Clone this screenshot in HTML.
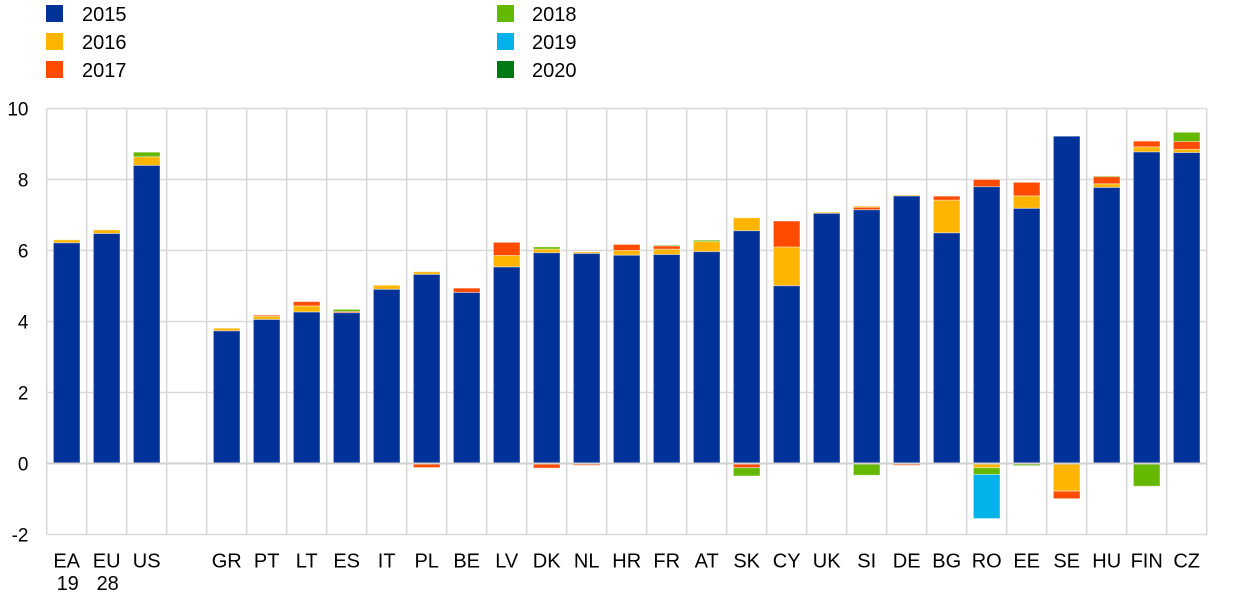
<!DOCTYPE html>
<html>
<head>
<meta charset="utf-8">
<style>
  html, body { margin:0; padding:0; background:#fff; }
  svg { display:block; font-family:"Liberation Sans", Arial, sans-serif; }
</style>
</head>
<body>
<svg width="1240" height="603" viewBox="0 0 1240 603" xmlns="http://www.w3.org/2000/svg">
  <!-- Legend -->
  <rect x="46" y="5" width="17" height="17" fill="#003299"/>
  <rect x="46" y="33" width="17" height="17" fill="#ffb400"/>
  <rect x="46" y="61" width="17" height="17" fill="#ff4b00"/>
  <rect x="497" y="5" width="17" height="17" fill="#65b800"/>
  <rect x="497" y="33" width="17" height="17" fill="#00b1ea"/>
  <rect x="497" y="61" width="17" height="17" fill="#007816"/>
  <g font-size="20" fill="#000">
    <text x="82" y="21">2015</text>
    <text x="82" y="49">2016</text>
    <text x="82" y="77">2017</text>
    <text x="532" y="21">2018</text>
    <text x="532" y="49">2019</text>
    <text x="532" y="77">2020</text>
  </g>

  <!-- Grid -->
  <g stroke="#d9d9d9" stroke-width="1.6" fill="none">
    <line x1="46.7" y1="108.5" x2="1206.7" y2="108.5"/>
    <line x1="46.7" y1="179.5" x2="1206.7" y2="179.5"/>
    <line x1="46.7" y1="250.5" x2="1206.7" y2="250.5"/>
    <line x1="46.7" y1="321.5" x2="1206.7" y2="321.5"/>
    <line x1="46.7" y1="392.5" x2="1206.7" y2="392.5"/>
    <line x1="46.7" y1="534.5" x2="1206.7" y2="534.5"/>
    <line x1="46.7" y1="108.5" x2="46.7" y2="534.5"/>
    <line x1="86.7" y1="108.5" x2="86.7" y2="534.5"/>
    <line x1="126.7" y1="108.5" x2="126.7" y2="534.5"/>
    <line x1="166.7" y1="108.5" x2="166.7" y2="534.5"/>
    <line x1="206.7" y1="108.5" x2="206.7" y2="534.5"/>
    <line x1="246.7" y1="108.5" x2="246.7" y2="534.5"/>
    <line x1="286.7" y1="108.5" x2="286.7" y2="534.5"/>
    <line x1="326.7" y1="108.5" x2="326.7" y2="534.5"/>
    <line x1="366.7" y1="108.5" x2="366.7" y2="534.5"/>
    <line x1="406.7" y1="108.5" x2="406.7" y2="534.5"/>
    <line x1="446.7" y1="108.5" x2="446.7" y2="534.5"/>
    <line x1="486.7" y1="108.5" x2="486.7" y2="534.5"/>
    <line x1="526.7" y1="108.5" x2="526.7" y2="534.5"/>
    <line x1="566.7" y1="108.5" x2="566.7" y2="534.5"/>
    <line x1="606.7" y1="108.5" x2="606.7" y2="534.5"/>
    <line x1="646.7" y1="108.5" x2="646.7" y2="534.5"/>
    <line x1="686.7" y1="108.5" x2="686.7" y2="534.5"/>
    <line x1="726.7" y1="108.5" x2="726.7" y2="534.5"/>
    <line x1="766.7" y1="108.5" x2="766.7" y2="534.5"/>
    <line x1="806.7" y1="108.5" x2="806.7" y2="534.5"/>
    <line x1="846.7" y1="108.5" x2="846.7" y2="534.5"/>
    <line x1="886.7" y1="108.5" x2="886.7" y2="534.5"/>
    <line x1="926.7" y1="108.5" x2="926.7" y2="534.5"/>
    <line x1="966.7" y1="108.5" x2="966.7" y2="534.5"/>
    <line x1="1006.7" y1="108.5" x2="1006.7" y2="534.5"/>
    <line x1="1046.7" y1="108.5" x2="1046.7" y2="534.5"/>
    <line x1="1086.7" y1="108.5" x2="1086.7" y2="534.5"/>
    <line x1="1126.7" y1="108.5" x2="1126.7" y2="534.5"/>
    <line x1="1166.7" y1="108.5" x2="1166.7" y2="534.5"/>
    <line x1="1206.7" y1="108.5" x2="1206.7" y2="534.5"/>
  </g>

  <!-- Bars -->
  <g stroke="rgba(255,255,255,0.4)" stroke-width="1">
    <!-- EA -->
    <rect x="53.4" y="242.69" width="26.6" height="220.81" fill="#003299"/>
    <rect x="53.4" y="239.85" width="26.6" height="2.84" fill="#ffb400"/>
    <!-- EU -->
    <rect x="93.4" y="233.46" width="26.6" height="230.04" fill="#003299"/>
    <rect x="93.4" y="229.91" width="26.6" height="3.55" fill="#ffb400"/>
    <!-- US -->
    <rect x="133.4" y="165.3" width="26.6" height="298.2" fill="#003299"/>
    <rect x="133.4" y="156.78" width="26.6" height="8.52" fill="#ffb400"/>
    <rect x="133.4" y="152.16" width="26.6" height="4.62" fill="#65b800"/>
    <!-- GR -->
    <rect x="213.4" y="330.73" width="26.6" height="132.77" fill="#003299"/>
    <rect x="213.4" y="328.24" width="26.6" height="2.49" fill="#ffb400"/>
    <!-- PT -->
    <rect x="253.4" y="319.37" width="26.6" height="144.13" fill="#003299"/>
    <rect x="253.4" y="316.17" width="26.6" height="3.2" fill="#ffb400"/>
    <rect x="253.4" y="315.11" width="26.6" height="1.06" fill="#ff4b00"/>
    <!-- LT -->
    <rect x="293.4" y="311.91" width="26.6" height="151.59" fill="#003299"/>
    <rect x="293.4" y="305.88" width="26.6" height="6.03" fill="#ffb400"/>
    <rect x="293.4" y="301.62" width="26.6" height="4.26" fill="#ff4b00"/>
    <!-- ES -->
    <rect x="333.4" y="312.62" width="26.6" height="150.88" fill="#003299"/>
    <rect x="333.4" y="311.56" width="26.6" height="1.06" fill="#ff4b00"/>
    <rect x="333.4" y="309.43" width="26.6" height="2.13" fill="#65b800"/>
    <!-- IT -->
    <rect x="373.4" y="289.19" width="26.6" height="174.31" fill="#003299"/>
    <rect x="373.4" y="285.29" width="26.6" height="3.9" fill="#ffb400"/>
    <!-- PL -->
    <rect x="413.4" y="274.28" width="26.6" height="189.22" fill="#003299"/>
    <rect x="413.4" y="271.8" width="26.6" height="2.48" fill="#ffb400"/>
    <rect x="413.4" y="463.5" width="26.6" height="4" fill="#ff4b00"/>
    <!-- BE -->
    <rect x="453.4" y="292.39" width="26.6" height="171.11" fill="#003299"/>
    <rect x="453.4" y="288.13" width="26.6" height="4.26" fill="#ff4b00"/>
    <!-- LV -->
    <rect x="493.4" y="266.83" width="26.6" height="196.67" fill="#003299"/>
    <rect x="493.4" y="255.47" width="26.6" height="11.36" fill="#ffb400"/>
    <rect x="493.4" y="242.33" width="26.6" height="13.14" fill="#ff4b00"/>
    <!-- DK -->
    <rect x="533.4" y="252.63" width="26.6" height="210.87" fill="#003299"/>
    <rect x="533.4" y="249.08" width="26.6" height="3.55" fill="#ffb400"/>
    <rect x="533.4" y="246.95" width="26.6" height="2.13" fill="#65b800"/>
    <rect x="533.4" y="463.5" width="26.6" height="4.6" fill="#ff4b00"/>
    <!-- NL -->
    <rect x="573.4" y="253.34" width="26.6" height="210.16" fill="#003299"/>
    <rect x="573.4" y="251.92" width="26.6" height="1.42" fill="#ffb400"/>
    <rect x="573.4" y="463.5" width="26.6" height="1.8" fill="#ff4b00"/>
    <!-- HR -->
    <rect x="613.4" y="255.11" width="26.6" height="208.39" fill="#003299"/>
    <rect x="613.4" y="250.5" width="26.6" height="4.61" fill="#ffb400"/>
    <rect x="613.4" y="244.46" width="26.6" height="6.04" fill="#ff4b00"/>
    <!-- FR -->
    <rect x="653.4" y="254.4" width="26.6" height="209.1" fill="#003299"/>
    <rect x="653.4" y="249.08" width="26.6" height="5.32" fill="#ffb400"/>
    <rect x="653.4" y="245.88" width="26.6" height="3.2" fill="#ff4b00"/>
    <rect x="653.4" y="245.17" width="26.6" height="0.71" fill="#65b800"/>
    <!-- AT -->
    <rect x="693.4" y="251.56" width="26.6" height="211.94" fill="#003299"/>
    <rect x="693.4" y="241.62" width="26.6" height="9.94" fill="#ffb400"/>
    <rect x="693.4" y="240.2" width="26.6" height="1.42" fill="#65b800"/>
    <!-- SK -->
    <rect x="733.4" y="230.62" width="26.6" height="232.88" fill="#003299"/>
    <rect x="733.4" y="217.84" width="26.6" height="12.78" fill="#ffb400"/>
    <rect x="733.4" y="463.5" width="26.6" height="4.26" fill="#ff4b00"/>
    <rect x="733.4" y="467.76" width="26.6" height="8.17" fill="#65b800"/>
    <!-- CY -->
    <rect x="773.4" y="285.64" width="26.6" height="177.86" fill="#003299"/>
    <rect x="773.4" y="246.95" width="26.6" height="38.69" fill="#ffb400"/>
    <rect x="773.4" y="221.03" width="26.6" height="25.92" fill="#ff4b00"/>
    <!-- UK -->
    <rect x="813.4" y="213.22" width="26.6" height="250.28" fill="#003299"/>
    <rect x="813.4" y="212.16" width="26.6" height="1.06" fill="#ffb400"/>
    <!-- SI -->
    <rect x="853.4" y="209.67" width="26.6" height="253.83" fill="#003299"/>
    <rect x="853.4" y="207.19" width="26.6" height="2.48" fill="#ff4b00"/>
    <rect x="853.4" y="206.12" width="26.6" height="1.07" fill="#ffb400"/>
    <rect x="853.4" y="463.5" width="26.6" height="11.72" fill="#65b800"/>
    <!-- DE -->
    <rect x="893.4" y="195.83" width="26.6" height="267.67" fill="#003299"/>
    <rect x="893.4" y="195.12" width="26.6" height="0.71" fill="#ffb400"/>
    <rect x="893.4" y="463.5" width="26.6" height="1.8" fill="#ff4b00"/>
    <!-- BG -->
    <rect x="933.4" y="232.75" width="26.6" height="230.75" fill="#003299"/>
    <rect x="933.4" y="200.09" width="26.6" height="32.66" fill="#ffb400"/>
    <rect x="933.4" y="196.18" width="26.6" height="3.91" fill="#ff4b00"/>
    <!-- RO -->
    <rect x="973.4" y="186.6" width="26.6" height="276.9" fill="#003299"/>
    <rect x="973.4" y="179.5" width="26.6" height="7.1" fill="#ff4b00"/>
    <rect x="973.4" y="463.5" width="26.6" height="4.26" fill="#ffb400"/>
    <rect x="973.4" y="467.76" width="26.6" height="6.75" fill="#65b800"/>
    <rect x="973.4" y="474.51" width="26.6" height="44.02" fill="#00b1ea"/>
    <!-- EE -->
    <rect x="1013.4" y="208.25" width="26.6" height="255.25" fill="#003299"/>
    <rect x="1013.4" y="195.83" width="26.6" height="12.42" fill="#ffb400"/>
    <rect x="1013.4" y="182.34" width="26.6" height="13.49" fill="#ff4b00"/>
    <rect x="1013.4" y="463.5" width="26.6" height="2.13" fill="#65b800"/>
    <!-- SE -->
    <rect x="1053.4" y="136.19" width="26.6" height="327.31" fill="#003299"/>
    <rect x="1053.4" y="463.5" width="26.6" height="27.69" fill="#ffb400"/>
    <rect x="1053.4" y="491.19" width="26.6" height="7.46" fill="#ff4b00"/>
    <!-- HU -->
    <rect x="1093.4" y="187.31" width="26.6" height="276.19" fill="#003299"/>
    <rect x="1093.4" y="183.76" width="26.6" height="3.55" fill="#ffb400"/>
    <rect x="1093.4" y="176.66" width="26.6" height="7.1" fill="#ff4b00"/>
    <rect x="1093.4" y="175.95" width="26.6" height="0.71" fill="#65b800"/>
    <!-- FIN -->
    <rect x="1133.4" y="151.81" width="26.6" height="311.69" fill="#003299"/>
    <rect x="1133.4" y="146.84" width="26.6" height="4.97" fill="#ffb400"/>
    <rect x="1133.4" y="141.16" width="26.6" height="5.68" fill="#ff4b00"/>
    <rect x="1133.4" y="463.5" width="26.6" height="22.72" fill="#65b800"/>
    <!-- CZ -->
    <rect x="1173.4" y="152.52" width="26.6" height="310.98" fill="#003299"/>
    <rect x="1173.4" y="149.32" width="26.6" height="3.2" fill="#ffb400"/>
    <rect x="1173.4" y="141.51" width="26.6" height="7.81" fill="#ff4b00"/>
    <rect x="1173.4" y="132.28" width="26.6" height="9.23" fill="#65b800"/>
  </g>

  <!-- Zero line -->
  <line x1="46.7" y1="463.5" x2="1206.7" y2="463.5" stroke="#d0d0d0" stroke-width="2"/>

  <!-- Y axis labels -->
  <g font-size="19" fill="#000" text-anchor="end">
    <text x="28.5" y="115.5">10</text>
    <text x="28.5" y="186.5">8</text>
    <text x="28.5" y="257.5">6</text>
    <text x="28.5" y="328.5">4</text>
    <text x="28.5" y="399.5">2</text>
    <text x="28.5" y="470.5">0</text>
    <text x="28.5" y="541.5">-2</text>
  </g>

  <!-- X axis labels -->
  <g font-size="20" fill="#000" text-anchor="middle">
    <text x="66.7" y="567.5">EA</text>
    <text x="67.7" y="590">19</text>
    <text x="106.7" y="567.5">EU</text>
    <text x="107.7" y="590">28</text>
    <text x="146.7" y="567.5">US</text>
    <text x="226.7" y="567.5">GR</text>
    <text x="266.7" y="567.5">PT</text>
    <text x="306.7" y="567.5">LT</text>
    <text x="346.7" y="567.5">ES</text>
    <text x="386.7" y="567.5">IT</text>
    <text x="426.7" y="567.5">PL</text>
    <text x="466.7" y="567.5">BE</text>
    <text x="506.7" y="567.5">LV</text>
    <text x="546.7" y="567.5">DK</text>
    <text x="586.7" y="567.5">NL</text>
    <text x="626.7" y="567.5">HR</text>
    <text x="666.7" y="567.5">FR</text>
    <text x="706.7" y="567.5">AT</text>
    <text x="746.7" y="567.5">SK</text>
    <text x="786.7" y="567.5">CY</text>
    <text x="826.7" y="567.5">UK</text>
    <text x="866.7" y="567.5">SI</text>
    <text x="906.7" y="567.5">DE</text>
    <text x="946.7" y="567.5">BG</text>
    <text x="986.7" y="567.5">RO</text>
    <text x="1026.7" y="567.5">EE</text>
    <text x="1066.7" y="567.5">SE</text>
    <text x="1106.7" y="567.5">HU</text>
    <text x="1146.7" y="567.5">FIN</text>
    <text x="1186.7" y="567.5">CZ</text>
  </g>
</svg>
</body>
</html>
